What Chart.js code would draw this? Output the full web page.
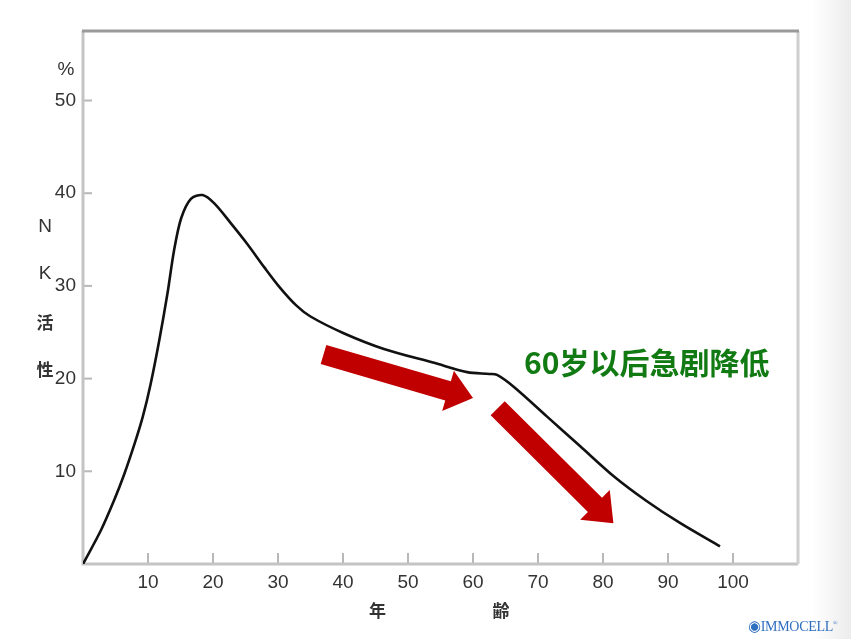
<!DOCTYPE html>
<html>
<head>
<meta charset="utf-8">
<script src="https://cdn.jsdelivr.net/npm/chart.js@4/dist/chart.umd.min.js"></script>
<style>
  html, body { margin: 0; padding: 0; }
  body {
    width: 851px; height: 639px; overflow: hidden;
    background: linear-gradient(to right, #ffffff 0px, #ffffff 812px, #ececec 851px);
  }
  #wrap { position: relative; width: 851px; height: 639px; }
  #logo {
    position: absolute; left: 748px; top: 617px;
    font-family: "Liberation Serif", serif; font-size: 14px; color: #2f6fbf;
    letter-spacing: -0.3px;
  }
  #logo b { font-size: 15px; font-weight: normal; }
</style>
</head>
<body>
<div id="wrap">
  <canvas id="nkChart" width="851" height="639"></canvas>
  <div id="logo"><b>&#9673;</b>IMMOCELL<sup style="font-size:6px">&reg;</sup></div>
</div>
<script>
// NK activity (%) by age
const ages = [0, 2.8, 4.8, 6.3, 7.9, 9.2, 10.4, 11.7, 13.0, 14.0, 15.1, 16.6, 18.4, 20.2, 22.7, 25.3, 27.9, 30.2, 32.8, 35.0, 40.1, 46.3, 54.0, 59.1, 62.5, 63.7, 66.3, 71.4, 76.5, 81.6, 86.7, 91.9, 98.0];
const activity = [0, 3.7, 6.9, 9.6, 12.9, 15.9, 19.4, 24.0, 29.2, 33.8, 37.3, 39.4, 39.8, 38.9, 36.8, 34.5, 32.0, 29.9, 27.9, 26.7, 24.9, 23.2, 21.7, 20.7, 20.5, 20.4, 19.1, 15.9, 12.7, 9.5, 6.8, 4.4, 1.9];
const xTicks = [10, 20, 30, 40, 50, 60, 70, 80, 90, 100];
const yTicks = [10, 20, 30, 40, 50];

// axis captions (data positions)
const yCaption = [["%", 53.3], ["N", 36.4], ["K", 31.3], ["活", 26.1], ["性", 21.0]];
const xCaption = [["年", 45.3], ["齢", 64.3]];
const note = "60岁以后急剧降低";

// red arrows: [fromX, fromY, toX, toY] in data units
const arrows = [[37.0, 22.6, 60.0, 17.9], [63.8, 16.8, 81.6, 4.4]];

const ctx = document.getElementById("nkChart").getContext("2d");

const frame = {
  id: "frame",
  beforeDatasetsDraw(chart) {
    const c = chart.ctx, a = chart.chartArea;
    const xs = chart.scales.x, ys = chart.scales.y;
    c.save();
    // inner tick marks
    c.strokeStyle = "#b8b8b8";
    c.lineWidth = 2;
    yTicks.forEach(v => {
      const py = ys.getPixelForValue(v);
      c.beginPath(); c.moveTo(a.left, py); c.lineTo(a.left + 9, py); c.stroke();
    });
    xTicks.forEach(v => {
      const px = xs.getPixelForValue(v);
      c.beginPath(); c.moveTo(px, a.bottom); c.lineTo(px, a.bottom - 11); c.stroke();
    });
    // box
    c.lineWidth = 3;
    c.strokeStyle = "#c4c4c4";
    c.beginPath(); c.moveTo(a.left, a.top); c.lineTo(a.left, a.bottom); c.lineTo(a.right, a.bottom); c.stroke();
    c.strokeStyle = "#cfcfcf";
    c.beginPath(); c.moveTo(a.right, a.top); c.lineTo(a.right, a.bottom); c.stroke();
    c.strokeStyle = "#9a9a9a";
    c.beginPath(); c.moveTo(a.left - 1, a.top); c.lineTo(a.right + 1, a.top); c.stroke();
    c.restore();
  },
  afterDraw(chart) {
    const c = chart.ctx;
    const xs = chart.scales.x, ys = chart.scales.y;
    c.save();
    // y caption
    c.fillStyle = "#333";
    c.textAlign = "center";
    c.textBaseline = "middle";
    yCaption.forEach(([t, v]) => {
      const isCjk = /[\u4e00-\u9fff]/.test(t);
      c.font = isCjk ? "bold 17px 'Noto Sans CJK SC'" : "19px 'Liberation Sans'";
      c.fillText(t, t === "%" ? 66 : 45, ys.getPixelForValue(v));
    });
    // x caption
    c.font = "bold 17px 'Noto Sans CJK JP'";
    xCaption.forEach(([t, v]) => c.fillText(t, xs.getPixelForValue(v), 611));
    // arrows
    c.fillStyle = "#c00000";
    arrows.forEach(([x0, y0, x1, y1]) => {
      const ax = xs.getPixelForValue(x0), ay = ys.getPixelForValue(y0);
      const bx = xs.getPixelForValue(x1), by = ys.getPixelForValue(y1);
      const len = Math.hypot(bx - ax, by - ay);
      const ux = (bx - ax) / len, uy = (by - ay) / len;
      const nx = -uy, ny = ux;
      const sw = 10, hw = 21, hl = 26;
      const hx = bx - ux * hl, hy = by - uy * hl;
      c.beginPath();
      c.moveTo(ax + nx * sw, ay + ny * sw);
      c.lineTo(hx + nx * sw, hy + ny * sw);
      c.lineTo(hx + nx * hw, hy + ny * hw);
      c.lineTo(bx, by);
      c.lineTo(hx - nx * hw, hy - ny * hw);
      c.lineTo(hx - nx * sw, hy - ny * sw);
      c.lineTo(ax - nx * sw, ay - ny * sw);
      c.closePath();
      c.fill();
    });
    // green note
    c.fillStyle = "#127a12";
    c.font = "bold 30px 'Noto Sans CJK SC'";
    c.textAlign = "left";
    c.fillText(note, 524, 363);
    c.restore();
  }
};

new Chart(ctx, {
  type: "scatter",
  data: {
    datasets: [{
      data: ages.map((a, i) => ({ x: a, y: activity[i] })),
      showLine: true,
      borderColor: "#111111",
      borderWidth: 2.6,
      pointRadius: 0,
      tension: 0.3,
      fill: false
    }]
  },
  options: {
    responsive: false,
    animation: false,
    layout: { padding: { left: 0, top: 31, right: 53, bottom: 0 } },
    plugins: { legend: { display: false }, tooltip: { enabled: false } },
    scales: {
      x: {
        type: "linear",
        min: 0, max: 110,
        afterBuildTicks: s => { s.ticks = xTicks.map(v => ({ value: v })); },
        afterFit: s => { s.height = 75; },
        grid: { display: false, drawTicks: false },
        border: { display: false },
        ticks: { padding: 7, color: "#333", font: { family: "Liberation Sans", size: 19 } }
      },
      y: {
        min: 0, max: 57.5,
        afterBuildTicks: s => { s.ticks = yTicks.map(v => ({ value: v })); },
        afterFit: s => { s.width = 83; },
        grid: { display: false, drawTicks: false },
        border: { display: false },
        ticks: { padding: 7, color: "#333", font: { family: "Liberation Sans", size: 19 } }
      }
    }
  },
  plugins: [frame]
});
</script>
</body>
</html>
